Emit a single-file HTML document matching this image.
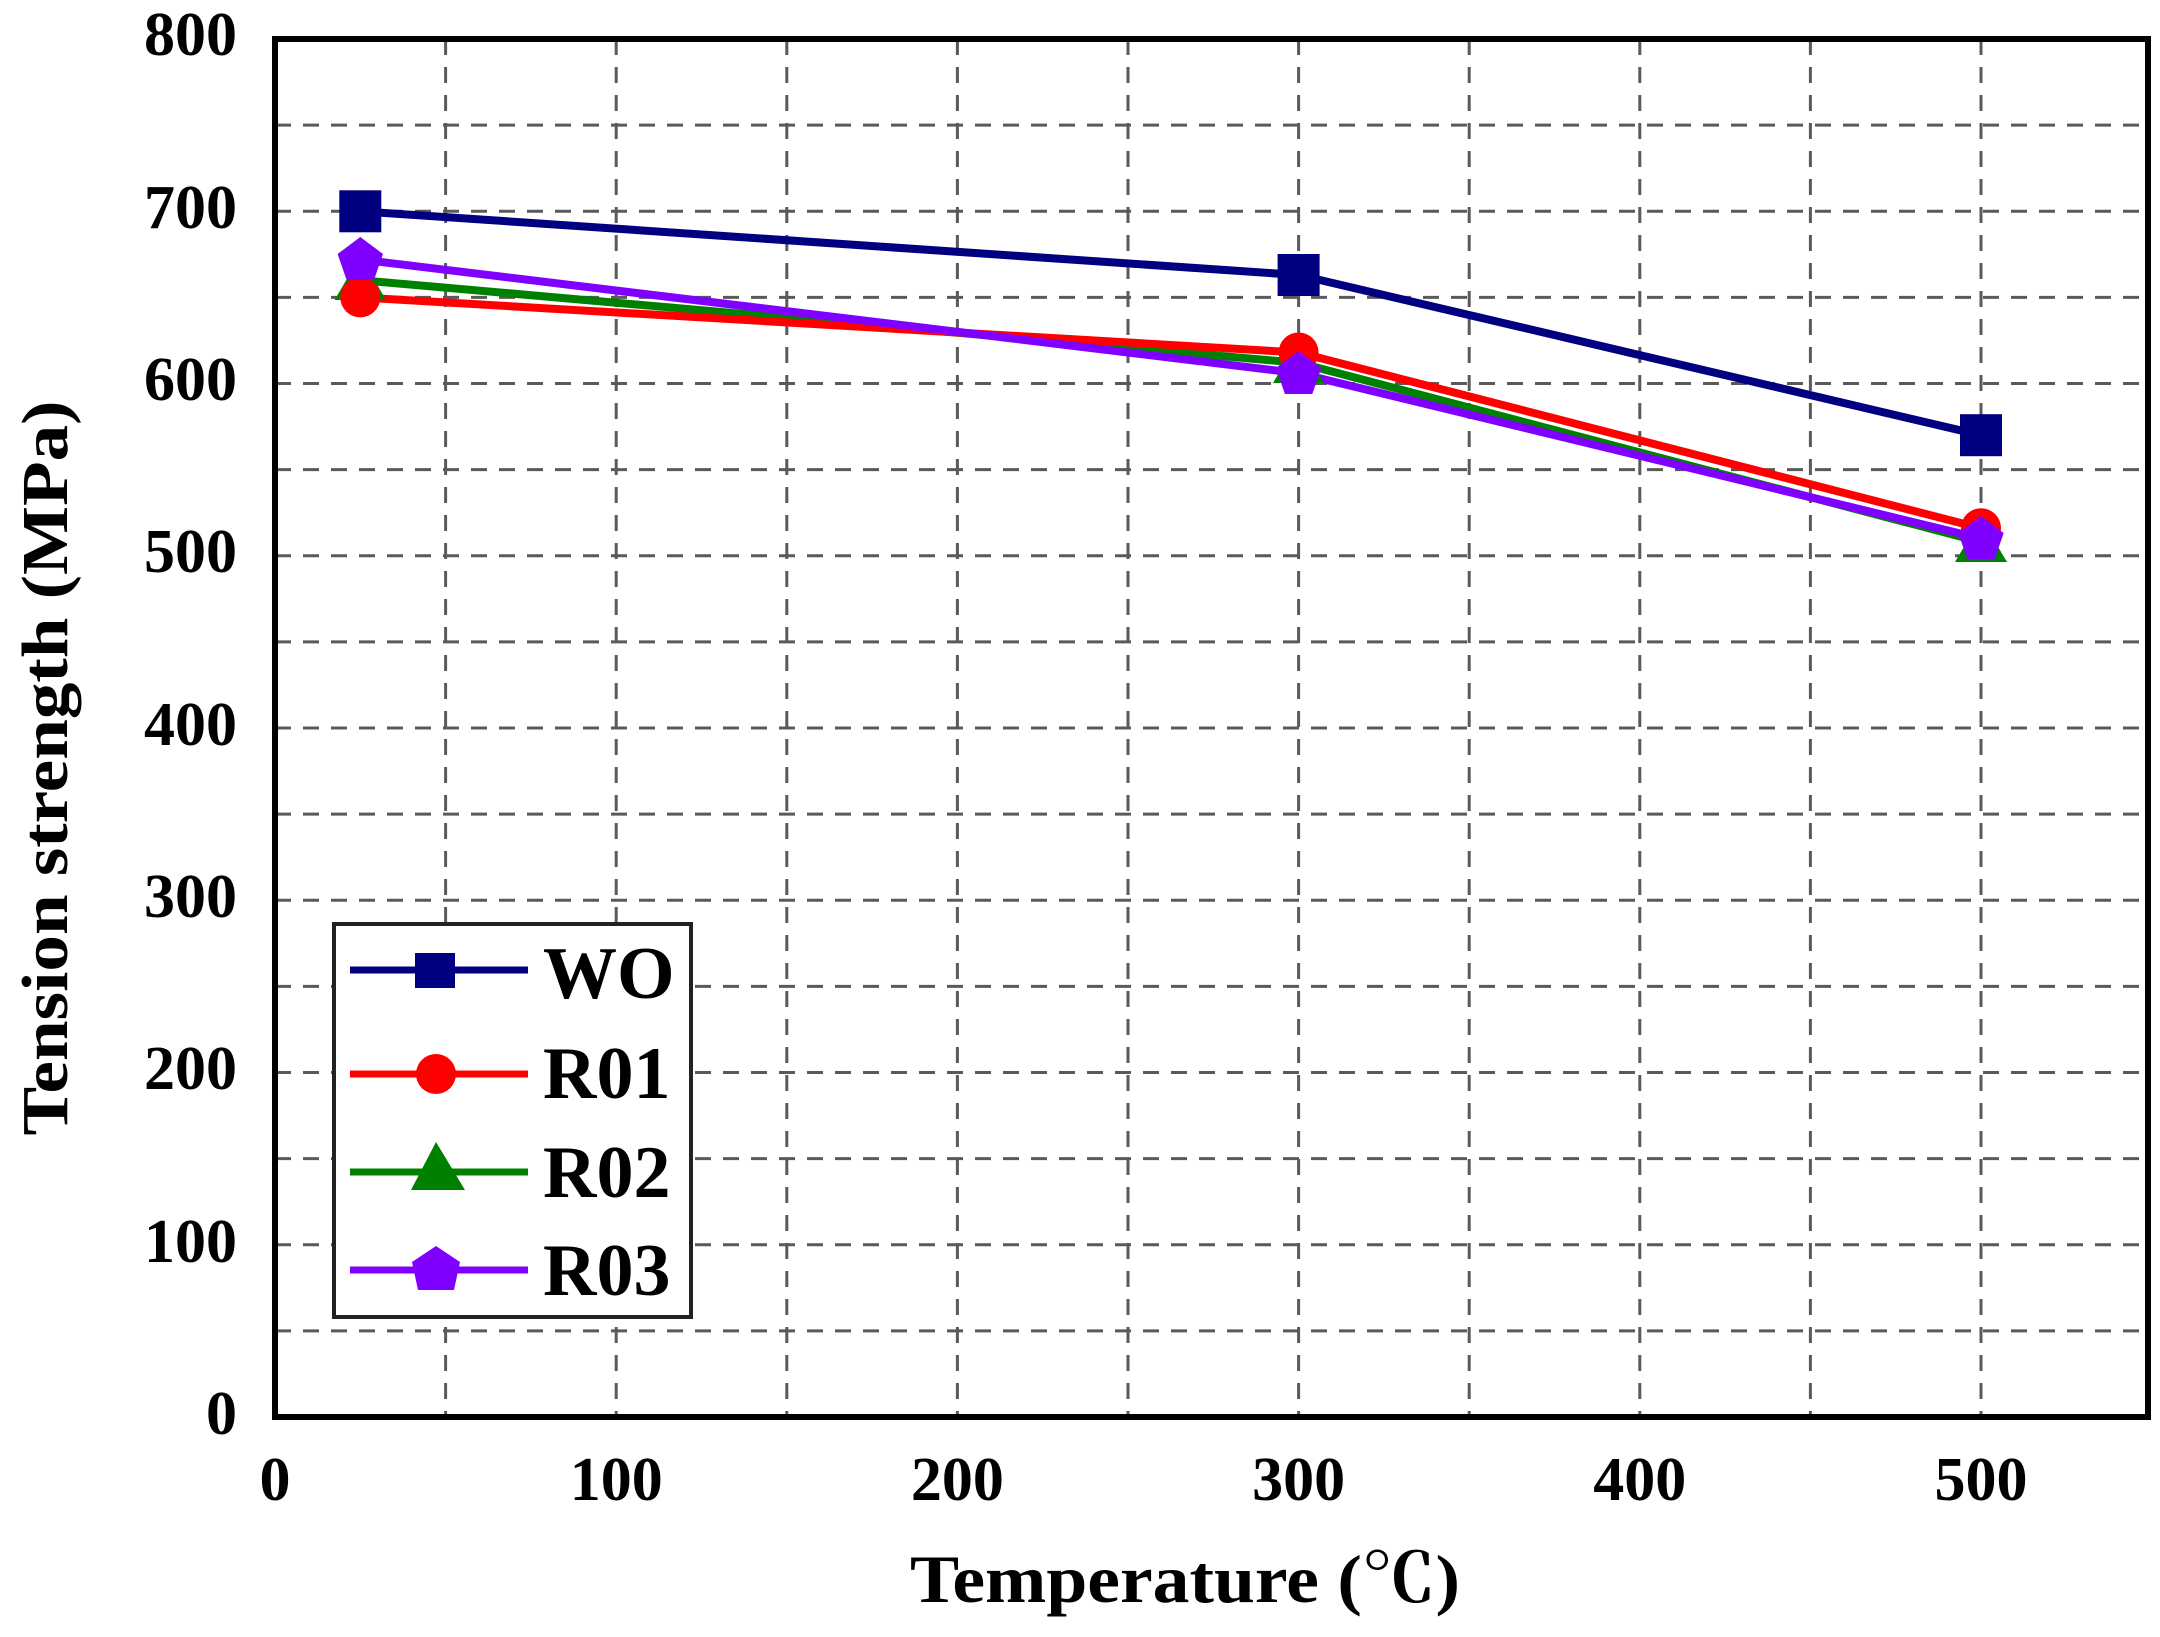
<!DOCTYPE html>
<html><head><meta charset="utf-8"><style>html,body{margin:0;padding:0;background:#fff}svg{display:block}</style></head>
<body>
<svg width="2160" height="1637" viewBox="0 0 2160 1637" xmlns="http://www.w3.org/2000/svg" font-family="Liberation Serif, serif" font-weight="bold">
<rect width="2160" height="1637" fill="#fff"/>
<g stroke="#5a5a5a" stroke-width="3" stroke-dasharray="16,12">
<line x1="275" y1="1330.9" x2="2148" y2="1330.9"/>
<line x1="275" y1="1244.8" x2="2148" y2="1244.8"/>
<line x1="275" y1="1158.6" x2="2148" y2="1158.6"/>
<line x1="275" y1="1072.5" x2="2148" y2="1072.5"/>
<line x1="275" y1="986.4" x2="2148" y2="986.4"/>
<line x1="275" y1="900.3" x2="2148" y2="900.3"/>
<line x1="275" y1="814.1" x2="2148" y2="814.1"/>
<line x1="275" y1="728" x2="2148" y2="728"/>
<line x1="275" y1="641.9" x2="2148" y2="641.9"/>
<line x1="275" y1="555.8" x2="2148" y2="555.8"/>
<line x1="275" y1="469.6" x2="2148" y2="469.6"/>
<line x1="275" y1="383.5" x2="2148" y2="383.5"/>
<line x1="275" y1="297.4" x2="2148" y2="297.4"/>
<line x1="275" y1="211.3" x2="2148" y2="211.3"/>
<line x1="275" y1="125.1" x2="2148" y2="125.1"/>
<line x1="445.6" y1="39" x2="445.6" y2="1417"/>
<line x1="616.2" y1="39" x2="616.2" y2="1417"/>
<line x1="786.8" y1="39" x2="786.8" y2="1417"/>
<line x1="957.4" y1="39" x2="957.4" y2="1417"/>
<line x1="1128" y1="39" x2="1128" y2="1417"/>
<line x1="1298.6" y1="39" x2="1298.6" y2="1417"/>
<line x1="1469.2" y1="39" x2="1469.2" y2="1417"/>
<line x1="1639.8" y1="39" x2="1639.8" y2="1417"/>
<line x1="1810.4" y1="39" x2="1810.4" y2="1417"/>
<line x1="1981" y1="39" x2="1981" y2="1417"/>
</g>
<rect x="275" y="39" width="1873" height="1378" fill="none" stroke="#000" stroke-width="6"/>
<g fill="none" stroke-width="8" stroke-linejoin="round">
<polyline points="360.3,280.2 1298.6,362.8 1981,542" stroke="#008000"/>
<polyline points="360.3,297.4 1298.6,352.5 1981,528.2" stroke="#ff0000"/>
<polyline points="360.3,259.5 1298.6,373.2 1981,538.5" stroke="#8000ff"/>
<polyline points="360.3,211.3 1298.6,275 1981,435.2" stroke="#000080"/>
</g>
<g fill="#008000">
<polygon points="360.3,256 386,300 334.6,300"/>
<polygon points="1298.6,339 1324,383 1273,383"/>
<polygon points="1981,518 2007,562 1955,562"/>
</g>
<g fill="#ff0000">
<circle cx="360.3" cy="297.4" r="20"/>
<circle cx="1298.6" cy="352.5" r="20"/>
<circle cx="1981" cy="528.2" r="20"/>
</g>
<g fill="#8000ff">
<polygon points="360.3,237 383,254 374,280 346.6,280 337.6,254"/>
<polygon points="1298.6,351 1321.3,368 1312.3,394 1284.9,394 1275.9,368"/>
<polygon points="1981,516 2003.7,533 1994.7,559 1967.3,559 1958.3,533"/>
</g>
<g fill="#000080">
<rect x="339.3" y="190.3" width="42" height="42"/>
<rect x="1277.6" y="254" width="42" height="42"/>
<rect x="1960" y="414.2" width="42" height="42"/>
</g>
<rect x="334" y="924" width="357" height="393" fill="#fff" stroke="#222" stroke-width="4"/>
<g stroke-width="7">
<line x1="350" y1="970" x2="528" y2="970" stroke="#000080"/>
<line x1="350" y1="1074" x2="528" y2="1074" stroke="#ff0000"/>
<line x1="350" y1="1172" x2="528" y2="1172" stroke="#008000"/>
<line x1="350" y1="1270" x2="528" y2="1270" stroke="#8000ff"/>
</g>
<rect x="415" y="953" width="40" height="35" fill="#000080"/>
<circle cx="436" cy="1074" r="20" fill="#ff0000"/>
<polygon points="436,1142 465,1190 411,1190" fill="#008000"/>
<polygon points="436,1246 460,1262 454,1290 418,1290 412,1262" fill="#8000ff"/>
<g font-size="74" fill="#000">
<text x="543" y="998">WO</text>
<text x="543" y="1098">R01</text>
<text x="543" y="1197">R02</text>
<text x="543" y="1295">R03</text>
</g>
<g font-size="62" fill="#000" text-anchor="end">
<text x="237" y="55">800</text>
<text x="237" y="228">700</text>
<text x="237" y="400">600</text>
<text x="237" y="572">500</text>
<text x="237" y="745">400</text>
<text x="237" y="917">300</text>
<text x="237" y="1089">200</text>
<text x="237" y="1262">100</text>
<text x="237" y="1434">0</text>
</g>
<g font-size="62" fill="#000" text-anchor="middle">
<text x="275" y="1500">0</text>
<text x="616.2" y="1500">100</text>
<text x="957.4" y="1500">200</text>
<text x="1298.6" y="1500">300</text>
<text x="1639.8" y="1500">400</text>
<text x="1981" y="1500">500</text>
</g>
<text x="1185" y="1602" font-size="68" text-anchor="middle" font-family="Liberation Serif, 'Noto Serif CJK SC', serif" textLength="550" lengthAdjust="spacingAndGlyphs">Temperature (℃)</text>
<text transform="translate(67,768) rotate(-90)" font-size="66" text-anchor="middle" textLength="735" lengthAdjust="spacingAndGlyphs">Tension strength (MPa)</text>
</svg>
</body></html>
